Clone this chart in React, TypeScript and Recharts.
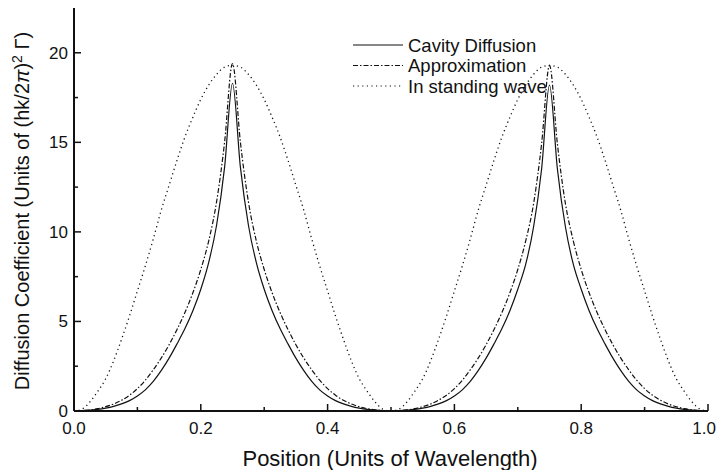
import React from 'react';
import { LineChart, Line, XAxis, YAxis, Legend, Label } from 'recharts';

// positions along the wavelength (step 1/80)
const positions = [
  0, 0.0125, 0.025, 0.0375, 0.05, 0.0625, 0.075, 0.0875, 0.1, 0.1125,
  0.125, 0.1375, 0.15, 0.1625, 0.175, 0.1875, 0.2, 0.2125, 0.225, 0.2375,
  0.25, 0.2625, 0.275, 0.2875, 0.3, 0.3125, 0.325, 0.3375, 0.35, 0.3625,
  0.375, 0.3875, 0.4, 0.4125, 0.425, 0.4375, 0.45, 0.4625, 0.475, 0.4875,
  0.5, 0.5125, 0.525, 0.5375, 0.55, 0.5625, 0.575, 0.5875, 0.6, 0.6125,
  0.625, 0.6375, 0.65, 0.6625, 0.675, 0.6875, 0.7, 0.7125, 0.725, 0.7375,
  0.75, 0.7625, 0.775, 0.7875, 0.8, 0.8125, 0.825, 0.8375, 0.85, 0.8625,
  0.875, 0.8875, 0.9, 0.9125, 0.925, 0.9375, 0.95, 0.9625, 0.975, 0.9875,
  1.0,
];

const cavityDiffusion = [
  0, 0.02, 0.05, 0.09, 0.16, 0.26, 0.4, 0.58, 0.84, 1.18,
  1.65, 2.25, 2.95, 3.75, 4.6, 5.6, 6.8, 8.3, 10.4, 13.6,
  18.3, 13.6, 10.4, 8.3, 6.8, 5.6, 4.6, 3.75, 2.95, 2.25,
  1.65, 1.18, 0.84, 0.58, 0.4, 0.26, 0.16, 0.09, 0.05, 0.02,
  0, 0.02, 0.05, 0.09, 0.16, 0.26, 0.4, 0.58, 0.84, 1.18,
  1.65, 2.25, 2.95, 3.75, 4.6, 5.6, 6.8, 8.2, 10.3, 13.5,
  18.2, 13.5, 10.3, 8.2, 6.8, 5.6, 4.6, 3.75, 2.95, 2.25,
  1.65, 1.18, 0.84, 0.58, 0.4, 0.26, 0.16, 0.09, 0.05, 0.02,
  0,
];

const approximation = [
  0, 0.02, 0.06, 0.13, 0.24, 0.39, 0.6, 0.88, 1.25, 1.72,
  2.3, 2.95, 3.7, 4.55, 5.5, 6.6, 7.9, 9.5, 11.7, 15.0,
  19.4, 15.0, 11.7, 9.5, 7.9, 6.6, 5.5, 4.55, 3.7, 2.95,
  2.3, 1.72, 1.25, 0.88, 0.6, 0.39, 0.24, 0.13, 0.06, 0.02,
  0, 0.02, 0.06, 0.13, 0.24, 0.39, 0.6, 0.88, 1.25, 1.72,
  2.3, 2.95, 3.7, 4.55, 5.5, 6.6, 7.9, 9.5, 11.6, 14.9,
  19.3, 14.9, 11.6, 9.5, 7.9, 6.6, 5.5, 4.55, 3.7, 2.95,
  2.3, 1.72, 1.25, 0.88, 0.6, 0.39, 0.24, 0.13, 0.06, 0.02,
  0,
];

const standingWave = [
  0, 0.1, 0.5, 1.1, 1.8, 2.8, 4.0, 5.3, 6.7, 8.1,
  9.6, 11.2, 12.6, 14.0, 15.3, 16.4, 17.4, 18.2, 18.8, 19.2,
  19.3, 19.2, 18.8, 18.2, 17.4, 16.4, 15.3, 14.0, 12.6, 11.2,
  9.6, 8.1, 6.7, 5.3, 4.0, 2.8, 1.8, 1.1, 0.5, 0.1,
  0, 0.1, 0.5, 1.1, 1.8, 2.8, 4.0, 5.3, 6.7, 8.1,
  9.6, 11.2, 12.6, 14.0, 15.3, 16.4, 17.4, 18.2, 18.8, 19.2,
  19.3, 19.2, 18.8, 18.2, 17.4, 16.4, 15.3, 14.0, 12.6, 11.2,
  9.6, 8.1, 6.7, 5.3, 4.0, 2.8, 1.8, 1.1, 0.5, 0.1,
  0,
];

const xTicks = [0, 0.1, 0.2, 0.3, 0.4, 0.5, 0.6, 0.7, 0.8, 0.9, 1.0];
const yTicks = [0, 2.5, 5, 7.5, 10, 12.5, 15, 17.5, 20];

const data = positions.map((x, i) => ({
  x,
  cavity: cavityDiffusion[i],
  approx: approximation[i],
  standing: standingWave[i],
}));

const FONT = '"Liberation Sans", Arial, Helvetica, sans-serif';
const INK = '#111';
const DASHDOT = '5 2 1.5 2';
const DOTTED = '1.2 3.4';

const isMajorX = (v: number) => Math.round(v * 10) % 2 === 0;
const isMajorY = (v: number) => Math.round(v * 10) % 50 === 0;

const BottomTick = (props: any) => {
  const { x, y, payload } = props;
  const major = isMajorX(payload.value);
  const last = payload.value >= 1;
  return (
    <g>
      <line x1={x} x2={x} y1={y} y2={y - (major ? 7 : 4)} stroke={INK} strokeWidth={1.5} />
      {major && (
        <text
          x={last ? 716 : x}
          y={y + 23}
          textAnchor={last ? 'end' : 'middle'}
          fontSize={17}
          fontFamily={FONT}
          fill={INK}
        >
          {payload.value.toFixed(1)}
        </text>
      )}
    </g>
  );
};

const TopTick = (props: any) => {
  const { x, y, payload } = props;
  const major = isMajorX(payload.value);
  return <line x1={x} x2={x} y1={y} y2={y + (major ? 7 : 4)} stroke={INK} strokeWidth={1.5} />;
};

const LeftTick = (props: any) => {
  const { x, y, payload } = props;
  const major = isMajorY(payload.value);
  return (
    <g>
      <line x1={x} x2={x + (major ? 7 : 4)} y1={y} y2={y} stroke={INK} strokeWidth={1.5} />
      {major && (
        <text x={x - 6} y={y + 6} textAnchor="end" fontSize={17} fontFamily={FONT} fill={INK}>
          {payload.value}
        </text>
      )}
    </g>
  );
};

const RightTick = (props: any) => {
  const { x, y, payload } = props;
  const major = isMajorY(payload.value);
  return <line x1={x} x2={x - (major ? 7 : 4)} y1={y} y2={y} stroke={INK} strokeWidth={1.5} />;
};

const legendRows = [
  { label: 'Cavity Diffusion', dash: undefined as string | undefined },
  { label: 'Approximation', dash: DASHDOT },
  { label: 'In standing wave', dash: DOTTED },
];

const renderLegend = () => (
  <svg width={717} height={110} style={{ position: 'absolute', left: 0, top: 0, overflow: 'visible' }}>
    {legendRows.map((r, i) => {
      const cy = 45 + i * 20.5;
      return (
        <g key={r.label}>
          <line x1={353} x2={403} y1={cy} y2={cy} stroke={INK} strokeWidth={1.2} strokeDasharray={r.dash} />
          <text x={408} y={cy + 6.5} fontSize={18.5} fontFamily={FONT} fill={INK}>
            {r.label}
          </text>
        </g>
      );
    })}
  </svg>
);

export default function App() {
  return (
    <div style={{ position: 'absolute', left: 0, top: 0, background: '#fff' }}>
      <LineChart width={717} height={470} data={data} margin={{ top: 8, right: 9, bottom: 0, left: 0 }}>
        <XAxis
          dataKey="x"
          type="number"
          domain={[0, 1]}
          ticks={xTicks}
          interval={0}
          height={59}
          tickSize={0}
          tickMargin={0}
          tickLine={false}
          tick={<BottomTick />}
          axisLine={{ stroke: INK, strokeWidth: 2 }}
        >
          <Label
            content={() => (
              <text x={390} y={466} textAnchor="middle" fontSize={22} fontFamily={FONT} fill={INK}>
                Position (Units of Wavelength)
              </text>
            )}
          />
        </XAxis>
        <XAxis
          xAxisId="top"
          orientation="top"
          type="number"
          domain={[0, 1]}
          allowDataOverflow
          ticks={xTicks}
          interval={0}
          height={0}
          tickSize={0}
          tickMargin={0}
          tickLine={false}
          tick={<TopTick />}
          axisLine={{ stroke: INK, strokeWidth: 2 }}
        />
        <YAxis
          type="number"
          domain={[0, 22.5]}
          allowDataOverflow
          ticks={yTicks}
          interval={0}
          width={74}
          tickSize={0}
          tickMargin={0}
          tickLine={false}
          tick={<LeftTick />}
          axisLine={{ stroke: INK, strokeWidth: 2 }}
        >
          <Label
            content={() => (
              <text
                x={29}
                y={211}
                transform="rotate(-90 29 211)"
                textAnchor="middle"
                fontSize={20}
                fontFamily={FONT}
                fill={INK}
              >
                Diffusion Coefficient (Units of (hk/2<tspan fontStyle="italic">π</tspan>)
                <tspan dy={-7} fontSize={14}>2</tspan>
                <tspan dy={7}> Γ)</tspan>
              </text>
            )}
          />
        </YAxis>
        <YAxis
          yAxisId="right"
          orientation="right"
          type="number"
          domain={[0, 22.5]}
          allowDataOverflow
          ticks={yTicks}
          interval={0}
          width={0}
          tickSize={0}
          tickMargin={0}
          tickLine={false}
          tick={<RightTick />}
          axisLine={{ stroke: INK, strokeWidth: 2 }}
        />
        <Legend
          layout="vertical"
          align="center"
          verticalAlign="middle"
          content={renderLegend}
          wrapperStyle={{ left: 0, top: 0, width: 717, height: 0 }}
        />
        <Line type="monotone" dataKey="standing" stroke={INK} strokeWidth={1.3} strokeDasharray={DOTTED} dot={false} isAnimationActive={false} />
        <Line type="monotone" dataKey="approx" stroke={INK} strokeWidth={1.2} strokeDasharray={DASHDOT} dot={false} isAnimationActive={false} />
        <Line type="monotone" dataKey="cavity" stroke={INK} strokeWidth={1.2} dot={false} isAnimationActive={false} />
      </LineChart>
    </div>
  );
}
